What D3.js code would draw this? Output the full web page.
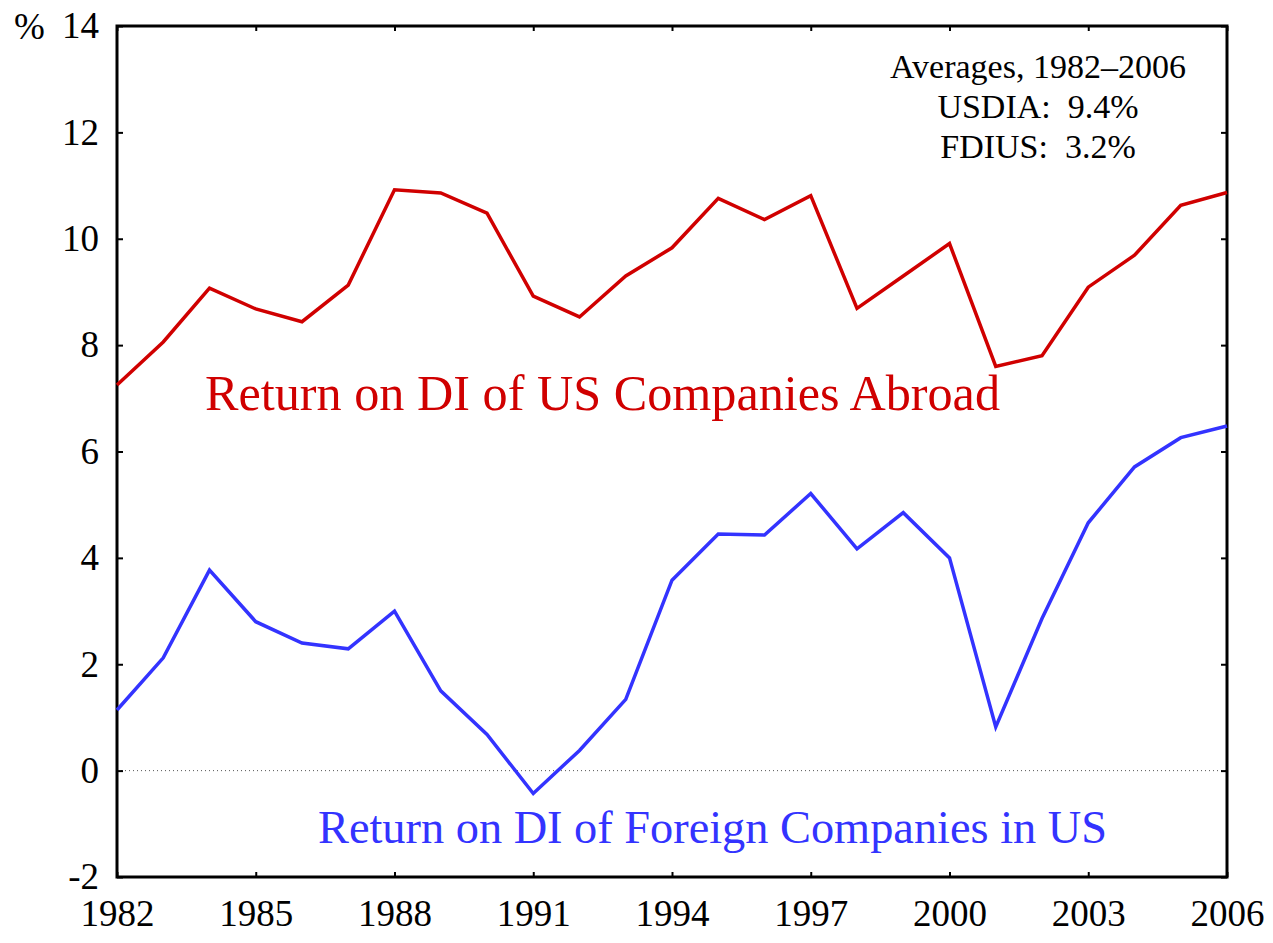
<!DOCTYPE html>
<html>
<head>
<meta charset="utf-8">
<script src="https://cdn.jsdelivr.net/npm/d3@7"></script>
<style>
  body { margin: 0; background: #fff; }
  svg text { font-family: "Liberation Serif", "Times New Roman", serif; }
</style>
</head>
<body>
<svg id="chart" width="1273" height="943"></svg>
<script>
// data
var years = d3.range(1982, 2007);
var usdia = [7.25, 8.06, 9.07, 8.68, 8.44, 9.13, 10.92, 10.86, 10.48, 8.92, 8.53,
             9.30, 9.83, 10.76, 10.36, 10.81, 8.69, 9.30, 9.91, 7.60, 7.80,
             9.09, 9.69, 10.63, 10.87];
var fdius = [1.14, 2.12, 3.77, 2.80, 2.40, 2.29, 3.00, 1.50, 0.68, -0.43, 0.38,
             1.34, 3.58, 4.45, 4.43, 5.21, 4.17, 4.85, 4.00, 0.82, 2.86,
             4.66, 5.71, 6.26, 6.48];
var yTicks = [-2, 0, 2, 4, 6, 8, 10, 12, 14];
var xTicks = [1982, 1985, 1988, 1991, 1994, 1997, 2000, 2003, 2006];
var avgLines = ["Averages, 1982\u20132006", "USDIA:  9.4%", "FDIUS:  3.2%"];

function drawChart() {
    var pLeft = 117, pRight = 1227, pTop = 26, pBottom = 877;
    var svg = d3.select("#chart");

    var x = d3.scaleLinear().domain([1982, 2006]).range([pLeft, pRight]);
    var y = d3.scaleLinear().domain([-2, 14]).range([pBottom, pTop]);

    // zero line
    svg.append("line")
        .attr("x1", pLeft).attr("x2", pRight)
        .attr("y1", y(0)).attr("y2", y(0))
        .attr("stroke", "#555").attr("stroke-width", 1)
        .attr("stroke-dasharray", "1,3");

    // axes, ticks inward and mirrored
    var gy = svg.append("g").attr("transform", "translate(" + pLeft + ",0)")
        .call(d3.axisLeft(y).tickValues(yTicks).tickSize(-6).tickPadding(18)
            .tickFormat(function(d) { return String(d); }));
    gy.select(".domain").remove();
    gy.selectAll("text").attr("font-size", 37).attr("fill", "#000");
    gy.selectAll("line").attr("stroke-width", 2);

    var gyr = svg.append("g").attr("transform", "translate(" + pRight + ",0)")
        .call(d3.axisRight(y).tickValues(yTicks).tickSize(-6).tickFormat(""));
    gyr.select(".domain").remove();
    gyr.selectAll("line").attr("stroke-width", 2);

    var gx = svg.append("g").attr("transform", "translate(0," + pBottom + ")")
        .call(d3.axisBottom(x).tickValues(xTicks).tickFormat(d3.format("d"))
            .tickSize(-5).tickPadding(23));
    gx.select(".domain").remove();
    gx.selectAll("text").attr("font-size", 37).attr("fill", "#000");
    gx.selectAll("line").attr("stroke-width", 2);

    var gxt = svg.append("g").attr("transform", "translate(0," + pTop + ")")
        .call(d3.axisTop(x).tickValues(xTicks).tickSize(-5).tickFormat(""));
    gxt.select(".domain").remove();
    gxt.selectAll("line").attr("stroke-width", 2);

    // frame
    svg.append("rect")
        .attr("x", pLeft).attr("y", pTop)
        .attr("width", pRight - pLeft).attr("height", pBottom - pTop)
        .attr("fill", "none").attr("stroke", "#000").attr("stroke-width", 3);

    svg.append("text")
        .attr("x", 14).attr("y", 39)
        .attr("font-size", 37)
        .text("%");

    // series
    var line = d3.line()
        .x(function(d, i) { return x(years[i]); })
        .y(function(d) { return y(d); });

    svg.append("path").datum(usdia)
        .attr("d", line)
        .attr("fill", "none").attr("stroke", "#d00000").attr("stroke-width", 3.5);

    svg.append("path").datum(fdius)
        .attr("d", line)
        .attr("fill", "none").attr("stroke", "#3333ff").attr("stroke-width", 3.5);

    // labels
    svg.append("text")
        .attr("x", 205).attr("y", 410)
        .attr("font-size", 50)
        .attr("fill", "#d00000")
        .attr("textLength", 795).attr("lengthAdjust", "spacingAndGlyphs")
        .text("Return on DI of US Companies Abroad");

    svg.append("text")
        .attr("x", 318).attr("y", 843)
        .attr("font-size", 46)
        .attr("fill", "#3333ff")
        .attr("textLength", 789).attr("lengthAdjust", "spacingAndGlyphs")
        .text("Return on DI of Foreign Companies in US");

    svg.append("g").selectAll("text")
        .data(avgLines)
        .join("text")
        .attr("x", 1038)
        .attr("y", function(d, i) { return 78 + i * 40; })
        .attr("text-anchor", "middle")
        .attr("font-size", 34)
        .style("white-space", "pre")
        .text(function(d) { return d; });
}

drawChart();
</script>
</body>
</html>
